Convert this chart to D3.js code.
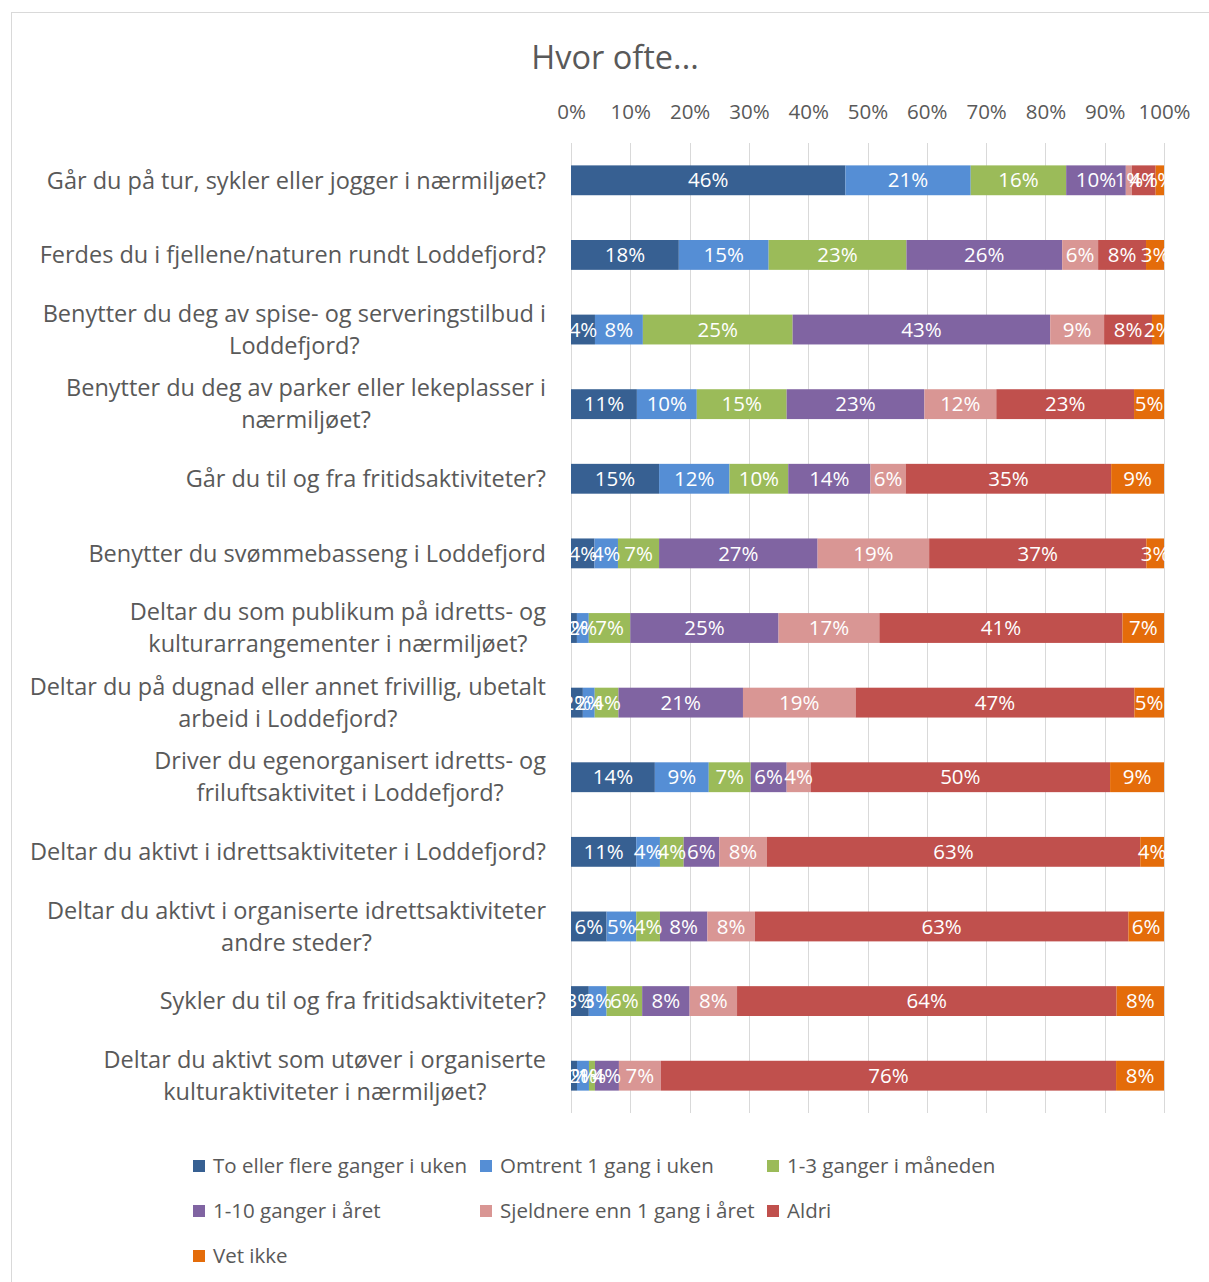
<!DOCTYPE html>
<html><head><meta charset="utf-8">
<script src="https://cdn.jsdelivr.net/npm/d3@7"></script>
<style>body{margin:0;background:#fff}svg{display:block}</style>
</head><body>
<svg id="c" width="1209" height="1282"></svg>
<script>
const categories = [
  ["Går du på tur, sykler eller jogger i nærmiljøet?"],
  ["Ferdes du i fjellene/naturen rundt Loddefjord?"],
  ["Benytter du deg av spise- og serveringstilbud i","Loddefjord?"],
  ["Benytter du deg av parker eller lekeplasser i","nærmiljøet?"],
  ["Går du til og fra fritidsaktiviteter?"],
  ["Benytter du svømmebasseng i Loddefjord"],
  ["Deltar du som publikum på idretts- og","kulturarrangementer i nærmiljøet?"],
  ["Deltar du på dugnad eller annet frivillig, ubetalt","arbeid i Loddefjord?"],
  ["Driver du egenorganisert idretts- og","friluftsaktivitet i Loddefjord?"],
  ["Deltar du aktivt i idrettsaktiviteter i Loddefjord?"],
  ["Deltar du aktivt i organiserte idrettsaktiviteter","andre steder?"],
  ["Sykler du til og fra fritidsaktiviteter?"],
  ["Deltar du aktivt som utøver i organiserte","kulturaktiviteter i nærmiljøet?"]
];
const seriesNames = ["To eller flere ganger i uken","Omtrent 1 gang i uken","1-3 ganger i måneden","1-10 ganger i året","Sjeldnere enn 1 gang i året","Aldri","Vet ikke"];
const seriesColors = ["#376092","#558ED5","#9BBB59","#8064A2","#D99694","#C0504D","#E46C0A"];
const toFlere   = [46,18,4,11,15,4,1,2,14,11,6,3,1];
const omtrent1  = [21,15,8,10,12,4,2,2,9,4,5,3,2];
const g1_3      = [16,23,25,15,10,7,7,4,7,4,4,6,1];
const g1_10     = [10,26,43,23,14,27,25,21,6,6,8,8,4];
const sjeldnere = [1,6,9,12,6,19,17,19,4,8,8,8,7];
const aldri     = [4,8,8,23,35,37,41,47,50,63,63,64,76];
const vetIkke   = [1.4,3,2,5,9,3,7,5,9,4,6,8,8];
const tickLabels = ["0%","10%","20%","30%","40%","50%","60%","70%","80%","90%","100%"];

const series = [toFlere,omtrent1,g1_3,g1_10,sjeldnere,aldri,vetIkke];
const svg = d3.select("#c");
const font = "'Open Sans', 'Noto Sans', sans-serif";
const grey = "#595959";

svg.append("rect").attr("x",11.5).attr("y",12.5).attr("width",1300).attr("height",1300)
  .attr("fill","none").attr("stroke","#d9d9d9");

svg.append("text").attr("x",615).attr("y",69).attr("text-anchor","middle")
  .attr("font-family",font).attr("font-size",32.5).attr("fill",grey).text("Hvor ofte...");

const x = d3.scaleLinear().domain([0,1]).range([571,1164]);
const y = d3.scaleBand().domain(d3.range(categories.length)).range([143,1113]).paddingInner(0.6).paddingOuter(0.3);

// gridlines
const ticks = d3.range(0,1.0001,0.1);
svg.append("g").selectAll("line").data(ticks).join("line")
  .attr("x1",d=>Math.round(x(d))+0.5).attr("x2",d=>Math.round(x(d))+0.5)
  .attr("y1",143).attr("y2",1113).attr("stroke","#d9d9d9").attr("stroke-width",1);

const axis = d3.axisTop(x).tickValues(ticks).tickFormat((d,i)=>tickLabels[i]).tickSize(0).tickPadding(0);
const ag = svg.append("g").attr("transform","translate(0,119)").call(axis);
ag.select(".domain").remove();
ag.selectAll("text").attr("font-family",font).attr("font-size",20.5).attr("fill",grey);

// stacked data
const rows = categories.map((c,i)=>{
  const vals = series.map(s=>s[i]);
  const tot = d3.sum(vals);
  let acc = 0;
  return vals.map((v,k)=>{const s0=acc/tot; acc+=v; return {row:i,k,v,s0,s1:acc/tot};});
});

const bars = svg.append("g");
rows.forEach(r=>{
  bars.selectAll(null).data(r).join("rect")
    .attr("x",d=>x(d.s0)).attr("width",d=>x(d.s1)-x(d.s0))
    .attr("y",d=>y(d.row)).attr("height",y.bandwidth())
    .attr("fill",d=>seriesColors[d.k]);
});
rows.forEach(r=>{
  bars.selectAll(null).data(r).join("text")
    .attr("x",d=>(x(d.s0)+x(d.s1))/2).attr("y",d=>y(d.row)+y.bandwidth()/2)
    .attr("dy","0.35em").attr("text-anchor","middle")
    .attr("font-family",font).attr("font-size",20.5).attr("fill","#fff")
    .text(d=>Math.round(d.v)+"%");
});

// category labels
const cl = svg.append("g");
categories.forEach((lines,i)=>{
  const cy = y(i)+y.bandwidth()/2;
  const g = cl.append("g");
  const texts = lines.map((ln,j)=>g.append("text")
    .attr("y",cy + (j-(lines.length-1)/2)*32).attr("dy","0.35em")
    .attr("font-family",font).attr("font-size",23.5).attr("fill",grey).attr("text-anchor","middle").text(ln));
  const w = d3.max(texts,t=>t.node().getComputedTextLength());
  texts.forEach(t=>t.attr("x",546-w/2));
});

// legend
const legPos = [[193,1166],[480,1166],[767,1166],[193,1211],[480,1211],[767,1211],[193,1256]];
const lg = svg.append("g");
seriesNames.forEach((n,i)=>{
  const [lx,ly]=legPos[i];
  lg.append("rect").attr("x",lx).attr("y",ly-6).attr("width",12).attr("height",12).attr("fill",seriesColors[i]);
  lg.append("text").attr("x",lx+20).attr("y",ly).attr("dy","0.35em")
    .attr("font-family",font).attr("font-size",20.5).attr("fill",grey).text(n);
});
</script>
</body></html>
